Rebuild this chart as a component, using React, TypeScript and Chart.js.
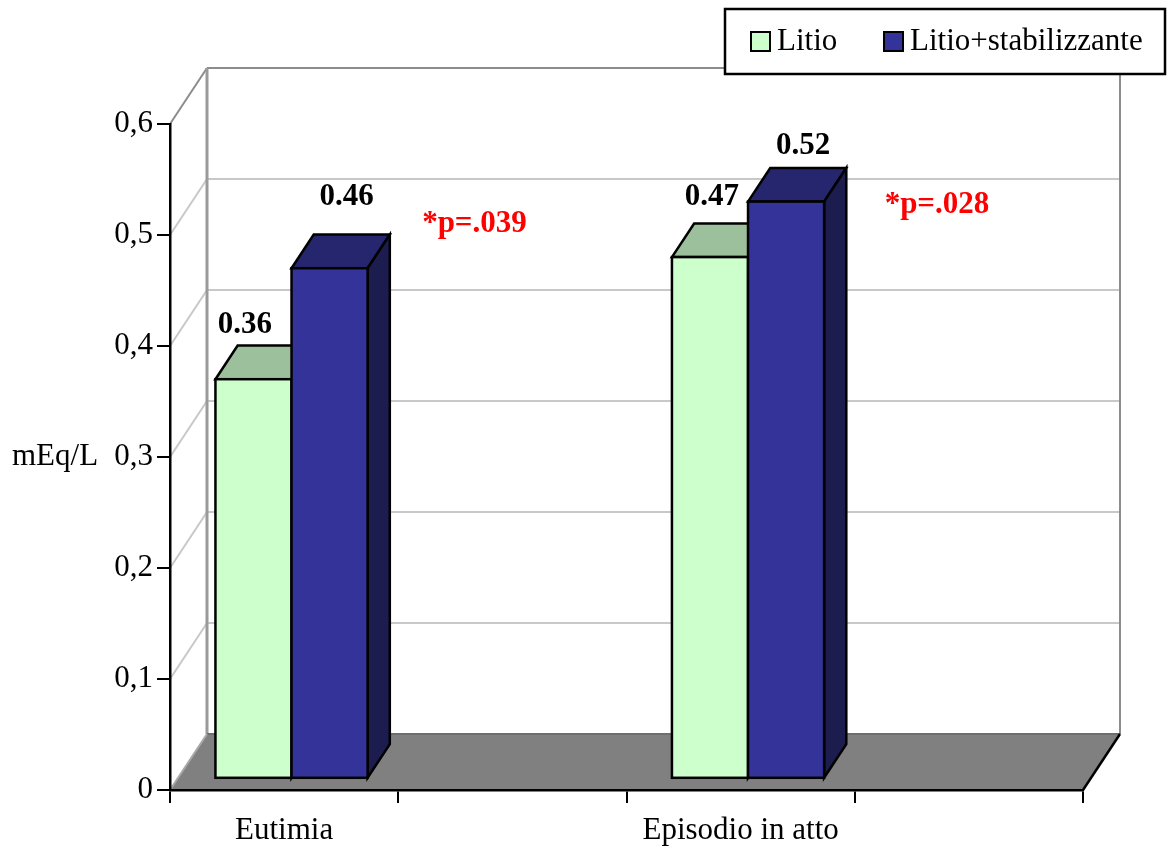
import { useEffect, useRef } from 'react';
import { Chart, registerables } from 'chart.js';

Chart.register(...registerables);

// ---- data ----
const categories = ['Eutimia', '', 'Episodio in atto', ''];
const seriesNames = ['Litio', 'Litio+stabilizzante'];
const litio = [0.36, null, 0.47, null];
const litioStabilizzante = [0.46, null, 0.52, null];
const yTicks = [0, 0.1, 0.2, 0.3, 0.4, 0.5, 0.6];
const yTitle = 'mEq/L';
const pValueText = ['*p=.039', '', '*p=.028', ''];

// ---- styling / layout ----
const FONT = 'Liberation Serif';
const FONT_SIZE = 31;
const FACES = [
  { front: '#CCFFCC', top: '#9BC09B', side: '#7FA07F' },
  { front: '#333399', top: '#26266F', side: '#1C1C4E' },
];
// projection of the full depth of the plot box
const WALL = { dx: 37, dy: -56 };
// bars start at 20% of the depth and are 60% deep
const BAR_FRONT = 0.2;
const BAR_DEPTH = 0.6;
// value labels: shift from the centre of the bar's front top edge (x) and baseline (y)
const LABEL_NUDGE = [
  [[-8.5, -46], null, [2, -52], null],
  [[17, -63], null, [17, -48], null],
];
// significance notes: left edge relative to category centre, baseline relative to plot top
const P_NUDGE = [[138, 108], null, [144, 89], null];

const fmtTick = (v: number) => (v === 0 ? '0' : v.toFixed(1).replace('.', ','));

function poly(ctx: CanvasRenderingContext2D, pts: number[][]) {
  ctx.beginPath();
  ctx.moveTo(pts[0][0], pts[0][1]);
  for (let i = 1; i < pts.length; i++) ctx.lineTo(pts[i][0], pts[i][1]);
  ctx.closePath();
}

function line(ctx: CanvasRenderingContext2D, x1: number, y1: number, x2: number, y2: number, color: string, w = 2) {
  ctx.beginPath();
  ctx.moveTo(x1, y1);
  ctx.lineTo(x2, y2);
  ctx.strokeStyle = color;
  ctx.lineWidth = w;
  ctx.stroke();
}

const box3d = {
  id: 'box3d',
  beforeDraw(chart: any) {
    const { ctx, chartArea } = chart;
    const { left, right, bottom } = chartArea;
    const y = chart.scales.y;
    const { dx, dy } = WALL;
    ctx.save();
    ctx.fillStyle = '#FFFFFF';
    ctx.fillRect(0, 0, chart.width, chart.height);
    // floor
    poly(ctx, [
      [left, bottom],
      [right, bottom],
      [right + dx, bottom + dy],
      [left + dx, bottom + dy],
    ]);
    ctx.fillStyle = '#808080';
    ctx.fill();
    // grid on side and back walls
    const top = Math.max(...yTicks);
    yTicks.forEach((v) => {
      if (v === 0) return;
      const py = y.getPixelForValue(v);
      const c = v === top ? '#8C8C8C' : '#C8C8C8';
      line(ctx, left, py, left + dx, py + dy, c);
      line(ctx, left + dx, py + dy, right + dx, py + dy, c);
    });
    const yTop = y.getPixelForValue(top);
    line(ctx, left + dx, yTop + dy, left + dx, bottom + dy, '#9A9A9A', 3);
    line(ctx, right + dx, yTop + dy, right + dx, bottom + dy, '#8C8C8C', 2);
    // floor edges
    line(ctx, left + dx, bottom + dy, right + dx, bottom + dy, '#6E6E6E', 2);
    line(ctx, left, bottom, left + dx, bottom + dy, '#A8A8A8', 2);
    line(ctx, right, bottom, right + dx, bottom + dy, '#000000', 2.5);
    ctx.restore();
  },
  afterDatasetsDraw(chart: any) {
    const { ctx } = chart;
    const { dx, dy } = WALL;
    const fdx = dx * BAR_FRONT, fdy = dy * BAR_FRONT;
    const bdx = dx * BAR_DEPTH, bdy = dy * BAR_DEPTH;
    ctx.save();
    ctx.lineWidth = 2.5;
    ctx.lineJoin = 'miter';
    ctx.strokeStyle = '#000000';
    const labelsToDraw: any[] = [];
    categories.forEach((_, j) => {
      chart.data.datasets.forEach((ds: any, i: number) => {
        const v = ds.data[j];
        if (v == null) return;
        const el = chart.getDatasetMeta(i).data[j];
        const { x, y, base, width } = el.getProps(['x', 'y', 'base', 'width'], true);
        const fx = x - width / 2 + fdx;
        const fy = y + fdy;
        const fb = base + fdy;
        const fw = width;
        const face = FACES[i];
        // top face
        poly(ctx, [[fx, fy], [fx + bdx, fy + bdy], [fx + fw + bdx, fy + bdy], [fx + fw, fy]]);
        ctx.fillStyle = face.top;
        ctx.fill();
        ctx.stroke();
        // side face
        poly(ctx, [[fx + fw, fy], [fx + fw + bdx, fy + bdy], [fx + fw + bdx, fb + bdy], [fx + fw, fb]]);
        ctx.fillStyle = face.side;
        ctx.fill();
        ctx.stroke();
        // front face
        ctx.fillStyle = face.front;
        ctx.fillRect(fx, fy, fw, fb - fy);
        ctx.strokeRect(fx, fy, fw, fb - fy);
        const n = LABEL_NUDGE[i][j];
        if (n) labelsToDraw.push({ text: v.toFixed(2), x: fx + fw / 2 + n[0], y: fy + n[1] });
      });
    });
    // value labels
    ctx.fillStyle = '#000000';
    ctx.font = `bold ${FONT_SIZE}px "${FONT}"`;
    ctx.textAlign = 'center';
    ctx.textBaseline = 'alphabetic';
    labelsToDraw.forEach((l) => ctx.fillText(l.text, l.x, l.y));
    // significance notes
    const xs = chart.scales.x;
    ctx.fillStyle = '#FF0000';
    ctx.textAlign = 'left';
    pValueText.forEach((t, j) => {
      const n = P_NUDGE[j];
      if (!t || !n) return;
      ctx.fillText(t, xs.getPixelForValue(j) + n[0], chart.chartArea.top + n[1]);
    });
    ctx.restore();
  },
  afterDraw(chart: any) {
    const { ctx } = chart;
    const ys = chart.scales.y;
    ctx.save();
    // y axis title (horizontal)
    ctx.font = `${FONT_SIZE}px "${FONT}"`;
    ctx.fillStyle = '#000000';
    ctx.textAlign = 'left';
    ctx.textBaseline = 'middle';
    ctx.fillText(yTitle, 12, ys.getPixelForValue(0.3));
    // legend
    const lx = 725, ly = 9, lw = 440, lh = 65;
    ctx.fillStyle = '#FFFFFF';
    ctx.fillRect(lx, ly, lw, lh);
    ctx.lineWidth = 2.5;
    ctx.strokeStyle = '#000000';
    ctx.strokeRect(lx, ly, lw, lh);
    const items = [
      { sx: 751, tx: 777 },
      { sx: 884, tx: 910 },
    ];
    ctx.textBaseline = 'alphabetic';
    ctx.lineWidth = 2;
    seriesNames.forEach((name, i) => {
      const it = items[i];
      ctx.fillStyle = FACES[i].front;
      ctx.fillRect(it.sx, 32, 19, 19);
      ctx.strokeRect(it.sx, 32, 19, 19);
      ctx.fillStyle = '#000000';
      ctx.fillText(name, it.tx, 50);
    });
    ctx.restore();
  },
};

export default function App() {
  const ref = useRef<HTMLCanvasElement>(null);

  useEffect(() => {
    if (!ref.current) return;
    Chart.defaults.font.family = FONT;
    const chart = new Chart(ref.current, {
      type: 'bar',
      data: {
        labels: categories,
        datasets: [
          { label: seriesNames[0], data: litio, backgroundColor: 'rgba(0,0,0,0)', borderWidth: 0 },
          { label: seriesNames[1], data: litioStabilizzante, backgroundColor: 'rgba(0,0,0,0)', borderWidth: 0 },
        ],
      },
      options: {
        responsive: false,
        animation: false,
        events: [],
        layout: { padding: { left: 114, right: 88, top: 124, bottom: 0 } },
        plugins: { legend: { display: false }, tooltip: { enabled: false } },
        datasets: { bar: { categoryPercentage: 2 / 3, barPercentage: 1 } },
        scales: {
          x: {
            grid: { offset: true, drawOnChartArea: false, drawTicks: true, tickLength: 13, color: '#000000', lineWidth: 2 },
            border: { display: true, color: '#000000', width: 2.5 },
            ticks: { autoSkip: false, maxRotation: 0, color: '#000000', padding: 9, font: { family: FONT, size: FONT_SIZE } },
            afterFit: (s: any) => { s.height = 60; },
          },
          y: {
            min: 0,
            max: 0.6,
            afterBuildTicks: (s: any) => { s.ticks = yTicks.map((v) => ({ value: v })); },
            grid: { drawOnChartArea: false, drawTicks: true, tickLength: 13, color: '#000000', lineWidth: 2 },
            border: { display: true, color: '#000000', width: 2.5 },
            ticks: { color: '#000000', padding: 4, font: { family: FONT, size: FONT_SIZE }, callback: (v: any) => fmtTick(Number(v)) },
            afterFit: (s: any) => { s.width = 56; },
          },
        },
      },
      plugins: [box3d],
    });
    return () => chart.destroy();
  }, []);

  return (
    <div style={{ position: 'absolute', left: 0, top: 0, width: 1171, height: 850 }}>
      <canvas ref={ref} width={1171} height={850} style={{ display: 'block' }} />
    </div>
  );
}
